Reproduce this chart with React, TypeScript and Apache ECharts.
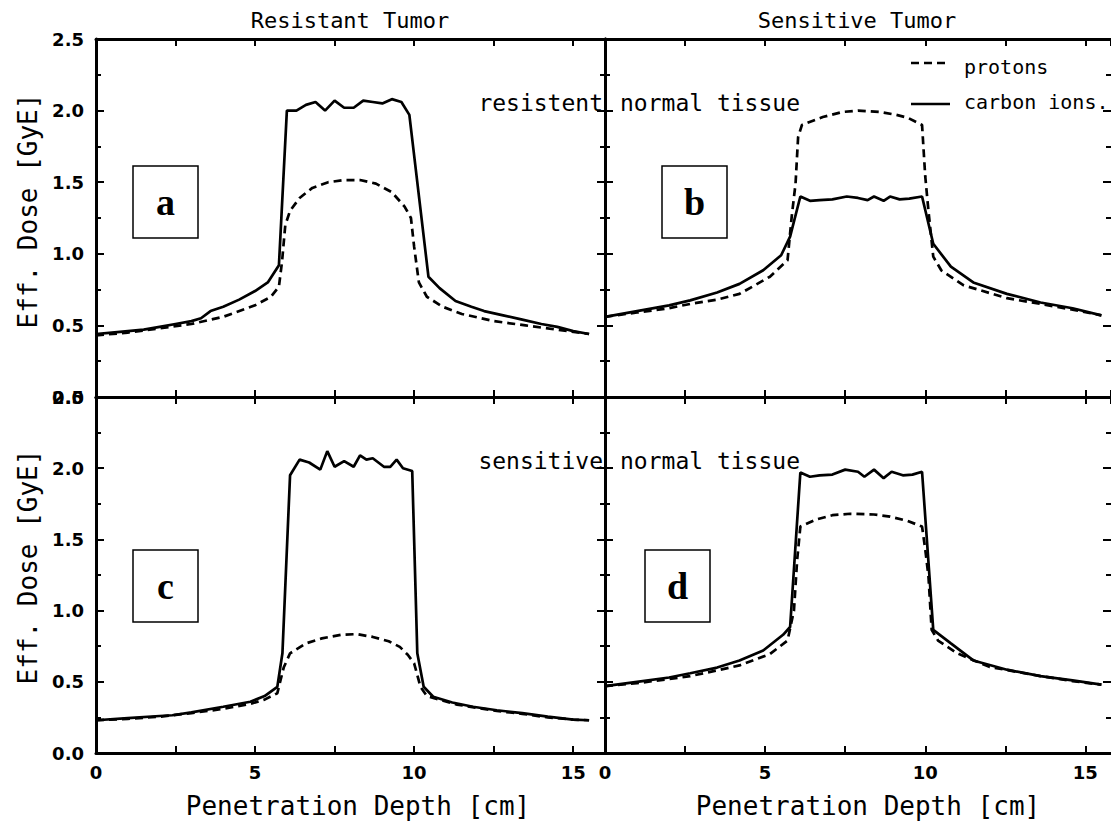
import React, { useEffect, useRef } from "react";
import * as echarts from "echarts";

const panelTitles = ["Resistant Tumor", "Sensitive Tumor"];
const xTitle = "Penetration Depth [cm]";
const yTitle = "Eff. Dose [GyE]";
const panelLetters = ["a", "b", "c", "d"];
const tissueLabels = ["resistent", "normal tissue", "sensitive", "normal tissue"];
const legendNames = ["protons", "carbon ions."];

// Panel a (resistant tumor, resistant normal tissue)
const aCx = [0, 0.5, 1, 1.5, 2, 2.5, 3, 3.3, 3.6, 4, 4.5, 5, 5.4, 5.75, 6.0, 6.3, 6.6, 6.9, 7.2, 7.5, 7.8, 8.1, 8.4, 8.7, 9.0, 9.3, 9.6, 9.85, 10.45, 10.8, 11.3, 11.8, 12.2, 12.8, 13.4, 14, 14.5, 15, 15.5];
const aCy = [0.44, 0.45, 0.46, 0.47, 0.49, 0.51, 0.53, 0.55, 0.60, 0.63, 0.68, 0.74, 0.80, 0.92, 2.0, 2.0, 2.04, 2.06, 2.0, 2.07, 2.02, 2.02, 2.07, 2.06, 2.05, 2.08, 2.06, 1.97, 0.84, 0.76, 0.67, 0.63, 0.60, 0.57, 0.54, 0.51, 0.49, 0.46, 0.44];
const aPx = [0, 1, 2, 3, 4, 5, 5.5, 5.75, 5.85, 5.95, 6.1, 6.4, 6.8, 7.3, 7.8, 8.3, 8.8, 9.3, 9.7, 9.9, 10.0, 10.15, 10.4, 10.9, 11.5, 12.5, 13.5, 14.5, 15.5];
const aPy = [0.43, 0.45, 0.48, 0.51, 0.56, 0.64, 0.70, 0.77, 0.95, 1.2, 1.3, 1.39, 1.46, 1.50, 1.515, 1.515, 1.49, 1.43, 1.33, 1.25, 1.05, 0.80, 0.70, 0.63, 0.58, 0.53, 0.50, 0.47, 0.44];

// Panel b (resistant tumor, normal tissue)
const bCx = [0, 1, 2, 2.66, 3.5, 4.2, 4.94, 5.5, 5.78, 6.1, 6.4, 6.7, 7.1, 7.55, 7.9, 8.2, 8.4, 8.7, 8.9, 9.2, 9.5, 9.9, 10.25, 10.8, 11.5, 12.55, 13.6, 14.6, 15.5];
const bCy = [0.56, 0.60, 0.64, 0.675, 0.73, 0.79, 0.885, 0.99, 1.12, 1.40, 1.37, 1.375, 1.38, 1.40, 1.39, 1.375, 1.40, 1.37, 1.40, 1.38, 1.385, 1.40, 1.07, 0.91, 0.80, 0.72, 0.66, 0.62, 0.57];
const bPx = [0, 1, 2, 2.66, 3.5, 4.2, 5.15, 5.7, 5.83, 5.95, 6.03, 6.15, 6.8, 7.4, 7.9, 8.6, 9.1, 9.45, 9.9, 10.0, 10.1, 10.25, 10.5, 11.2, 12.55, 13.6, 14.6, 15.5];
const bPy = [0.56, 0.59, 0.62, 0.65, 0.68, 0.72, 0.84, 0.955, 1.26, 1.49, 1.815, 1.90, 1.955, 1.99, 2.0, 1.99, 1.97, 1.95, 1.90, 1.54, 1.3, 0.98, 0.885, 0.78, 0.69, 0.65, 0.61, 0.57];

// Panel c (sensitive tumor, sensitive normal tissue)
const cCx = [0, 1, 2, 2.4, 3, 4, 4.85, 5.3, 5.7, 5.86, 6.1, 6.4, 6.7, 7.05, 7.27, 7.5, 7.8, 8.1, 8.3, 8.5, 8.7, 9.05, 9.25, 9.45, 9.65, 9.94, 10.1, 10.3, 10.6, 11.2, 11.85, 12.6, 13.4, 14.2, 15, 15.5];
const cCy = [0.23, 0.245, 0.26, 0.265, 0.285, 0.325, 0.36, 0.40, 0.465, 0.70, 1.95, 2.06, 2.04, 1.99, 2.12, 2.01, 2.05, 2.01, 2.09, 2.06, 2.07, 2.01, 2.01, 2.06, 2.0, 1.98, 0.70, 0.465, 0.395, 0.355, 0.325, 0.30, 0.28, 0.255, 0.235, 0.23];
const cPx = [0, 1, 2, 3, 4, 4.85, 5.3, 5.7, 5.9, 6.1, 6.6, 7.1, 7.7, 8.2, 8.7, 9.2, 9.55, 9.8, 10.0, 10.2, 10.4, 11.35, 12.6, 13.4, 14.2, 15, 15.5];
const cPy = [0.23, 0.24, 0.255, 0.28, 0.31, 0.345, 0.375, 0.42, 0.60, 0.70, 0.77, 0.805, 0.83, 0.835, 0.815, 0.785, 0.745, 0.69, 0.63, 0.465, 0.40, 0.34, 0.295, 0.275, 0.25, 0.235, 0.23];

// Panel d (sensitive tumor, normal tissue)
const dCx = [0, 1, 2, 2.66, 3.5, 4.2, 4.94, 5.56, 5.78, 6.1, 6.4, 6.7, 7.1, 7.5, 7.9, 8.1, 8.4, 8.7, 8.95, 9.3, 9.6, 9.9, 10.25, 10.8, 11.5, 12.55, 13.6, 14.6, 15.5];
const dCy = [0.47, 0.50, 0.53, 0.56, 0.60, 0.65, 0.72, 0.83, 0.885, 1.97, 1.94, 1.95, 1.955, 1.99, 1.975, 1.94, 1.99, 1.93, 1.975, 1.95, 1.955, 1.975, 0.865, 0.77, 0.65, 0.585, 0.54, 0.51, 0.48];
const dPx = [0, 1, 2, 2.66, 3.5, 4.2, 5.15, 5.7, 5.9, 6.0, 6.1, 6.6, 7.1, 7.65, 8.4, 8.9, 9.45, 9.9, 10.0, 10.1, 10.2, 10.4, 11.0, 12.0, 13.6, 14.6, 15.5];
const dPy = [0.47, 0.49, 0.52, 0.54, 0.58, 0.615, 0.695, 0.79, 1.0, 1.355, 1.59, 1.64, 1.67, 1.68, 1.675, 1.66, 1.63, 1.59, 1.43, 1.24, 0.865, 0.79, 0.70, 0.605, 0.54, 0.505, 0.48];

const carbonX = [aCx, bCx, cCx, dCx];
const carbonY = [aCy, bCy, cCy, dCy];
const protonX = [aPx, bPx, cPx, dPx];
const protonY = [aPy, bPy, cPy, dPy];

const X_MAX_LEFT = 16;
const X_MAX_RIGHT = 15.8;
const Y_MAX = 2.5;

const zip = (xs: number[], ys: number[]) => xs.map((x, i) => [x, ys[i]]);

export default function App() {
  const ref = useRef<HTMLDivElement>(null);

  useEffect(() => {
    if (!ref.current) return;
    const chart = echarts.init(ref.current, undefined, { renderer: "svg" });

    const grids = [
      { left: 96, top: 39, width: 509, height: 358 },
      { left: 605, top: 39, width: 506, height: 358 },
      { left: 96, top: 397, width: 509, height: 356 },
      { left: 605, top: 397, width: 506, height: 356 },
    ];

    const lineW = 3;
    const tickFont = {
      color: "#000",
      fontFamily: "DejaVu Sans",
      fontWeight: "bold" as const,
      fontSize: 18,
    };

    const xAxes: any[] = [];
    const yAxes: any[] = [];
    grids.forEach((_, g) => {
      const showX = g >= 2;
      const showY = g % 2 === 0;
      const isRight = g % 2 === 1;
      ["bottom", "top"].forEach((pos) => {
        xAxes.push({
          type: "value",
          gridIndex: g,
          position: pos,
          min: 0,
          max: isRight ? X_MAX_RIGHT : X_MAX_LEFT,
          interval: 2.5,
          axisLine: { show: true, onZero: false, lineStyle: { color: "#000", width: lineW } },
          axisTick: { show: true, inside: true, length: 7, lineStyle: { color: "#000", width: 2 } },
          axisLabel: {
            show: showX && pos === "bottom",
            margin: 10,
            showMaxLabel: false,
            ...tickFont,
            formatter: (v: number) => (v % 5 === 0 && v <= 15 ? String(v) : ""),
          },
          splitLine: { show: false },
        });
      });
      ["left", "right"].forEach((pos) => {
        yAxes.push({
          type: "value",
          gridIndex: g,
          position: pos,
          min: 0,
          max: Y_MAX,
          interval: 0.5,
          axisLine: {
            show: !(isRight && pos === "right"),
            onZero: false,
            lineStyle: { color: "#000", width: lineW },
          },
          axisTick: { show: true, inside: true, length: 8, lineStyle: { color: "#000", width: 2 } },
          minorTick: { show: true, splitNumber: 2, length: 5, lineStyle: { color: "#000", width: 2 } },
          axisLabel: {
            show: showY && pos === "left",
            margin: 12,
            ...tickFont,
            formatter: (v: number) => v.toFixed(1),
          },
          splitLine: { show: false },
          minorSplitLine: { show: false },
        });
      });
    });

    const series: any[] = [];
    grids.forEach((_, g) => {
      series.push({
        type: "line",
        name: legendNames[0],
        xAxisIndex: 2 * g,
        yAxisIndex: 2 * g,
        data: zip(protonX[g], protonY[g]),
        showSymbol: false,
        lineStyle: { color: "#000", width: 2.7, type: [8, 5] },
      });
      series.push({
        type: "line",
        name: legendNames[1],
        xAxisIndex: 2 * g,
        yAxisIndex: 2 * g,
        data: zip(carbonX[g], carbonY[g]),
        showSymbol: false,
        lineStyle: { color: "#000", width: 2.7 },
      });
    });

    const mono = "DejaVu Sans Mono";
    const txt = (x: number, y: number, text: string, size: number, align = "center", extra: any = {}) => ({
      type: "text",
      x,
      y,
      style: {
        text,
        fill: "#000",
        font: `${size}px "${mono}"`,
        textAlign: align,
        textVerticalAlign: "middle",
        ...extra,
      },
    });

    const boxes = [
      { x: 133, y: 166 },
      { x: 662, y: 166 },
      { x: 133, y: 550 },
      { x: 645, y: 550 },
    ];

    const graphic: any[] = [
      txt(350, 20, panelTitles[0], 22),
      txt(857, 20, panelTitles[1], 22),
      txt(358, 806, xTitle, 26),
      txt(868, 806, xTitle, 26),
      { ...txt(0, 0, yTitle, 26), x: 28, y: 211, rotation: Math.PI / 2 },
      { ...txt(0, 0, yTitle, 26), x: 28, y: 567, rotation: Math.PI / 2 },
      txt(603, 103, tissueLabels[0], 23, "right"),
      txt(620, 103, tissueLabels[1], 23, "left"),
      txt(603, 461, tissueLabels[2], 23, "right"),
      txt(620, 461, tissueLabels[3], 23, "left"),
      {
        type: "line",
        shape: { x1: 911, y1: 63, x2: 945, y2: 63 },
        style: { stroke: "#000", lineWidth: 2.5, lineDash: [8, 5] },
      },
      txt(964, 67, legendNames[0], 20, "left"),
      {
        type: "line",
        shape: { x1: 911, y1: 104, x2: 950, y2: 104 },
        style: { stroke: "#000", lineWidth: 2.5 },
      },
      txt(964, 102, legendNames[1], 20, "left"),
    ];
    boxes.forEach((b, i) => {
      graphic.push({
        type: "rect",
        shape: { x: b.x, y: b.y, width: 65, height: 72 },
        style: { stroke: "#000", lineWidth: 1.5, fill: "#fff" },
      });
      graphic.push({
        type: "text",
        x: b.x + 32.5,
        y: b.y + 36,
        style: {
          text: panelLetters[i],
          fill: "#000",
          font: `bold 38px "Liberation Serif"`,
          textAlign: "center",
          textVerticalAlign: "middle",
        },
      });
    });

    chart.setOption({
      animation: false,
      backgroundColor: "#fff",
      grid: grids.map((g) => ({ ...g, containLabel: false })),
      xAxis: xAxes,
      yAxis: yAxes,
      series,
      graphic,
    });

    return () => chart.dispose();
  }, []);

  return (
    <div
      ref={ref}
      style={{ position: "fixed", left: 0, top: 0, width: 1111, height: 826, background: "#fff" }}
    />
  );
}
